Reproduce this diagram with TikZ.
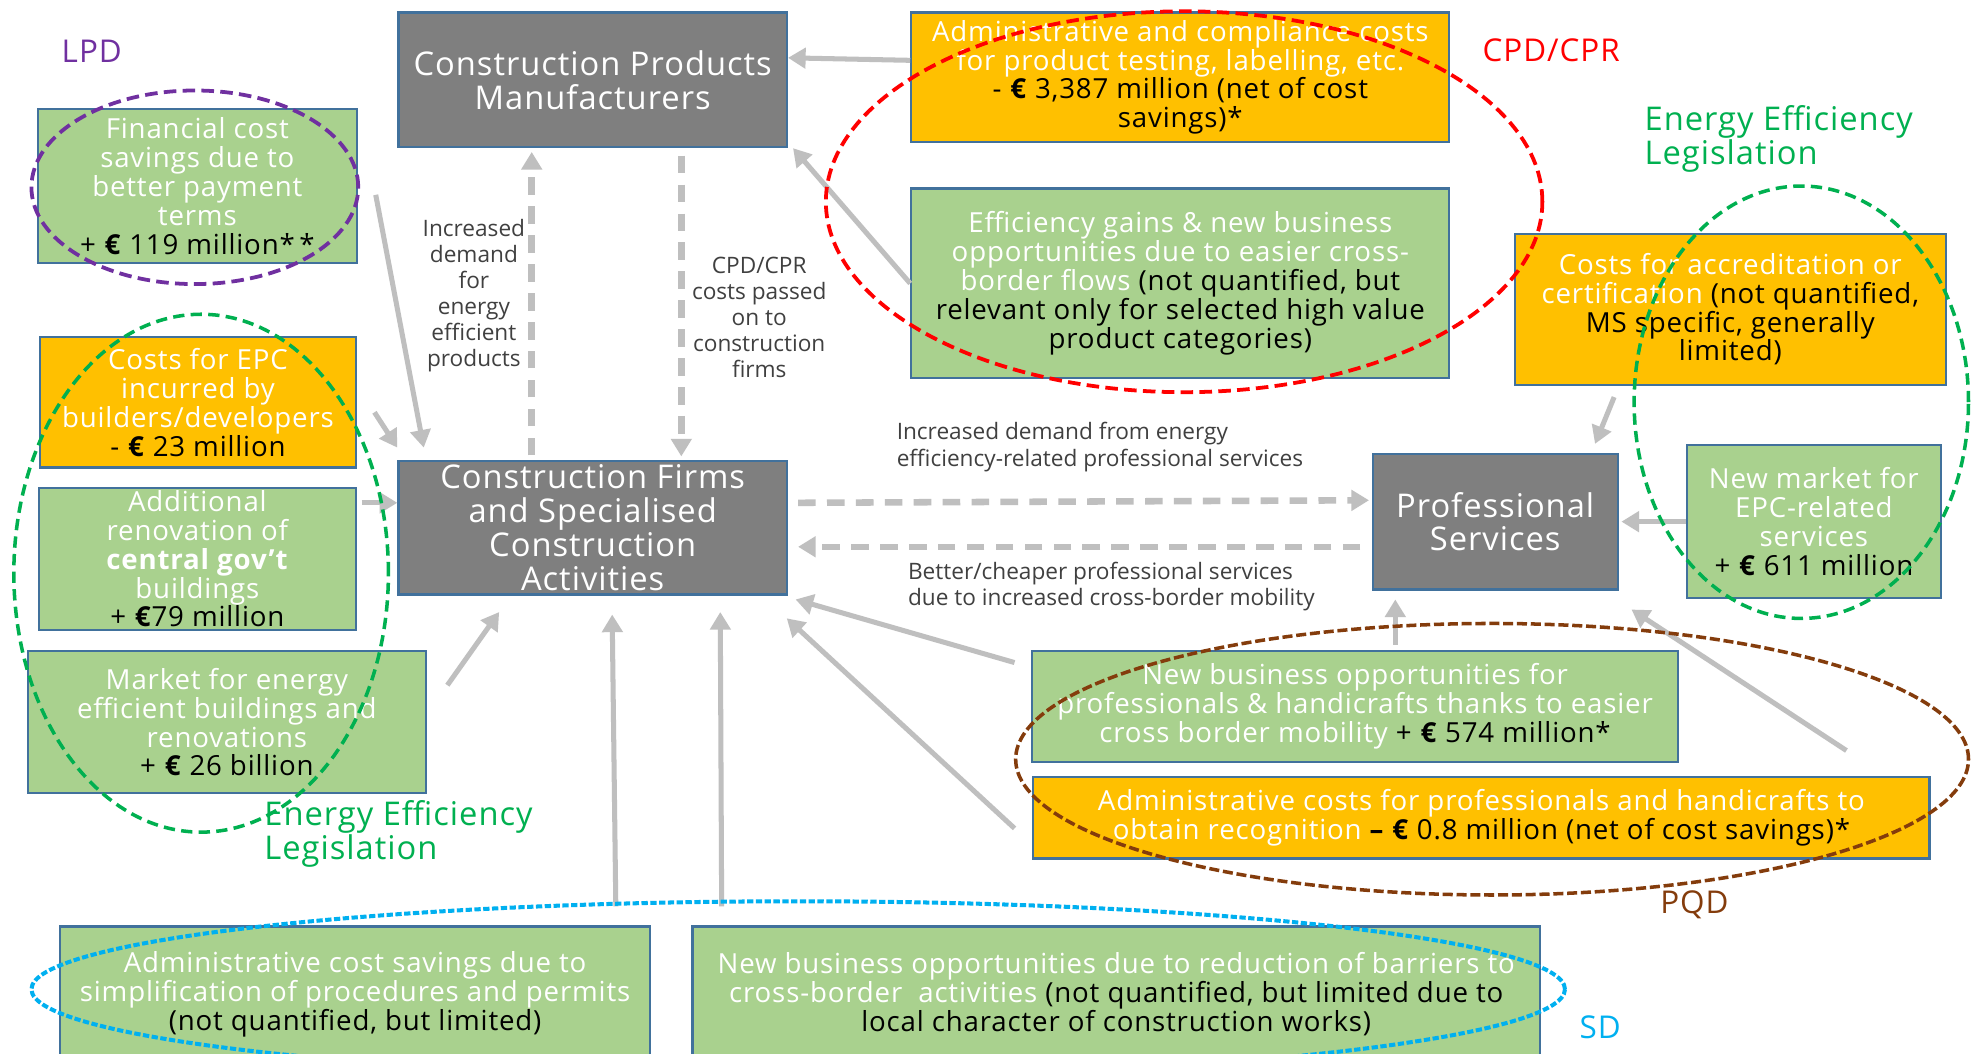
\documentclass[tikz,border=0pt]{standalone}
\usepackage{fontspec}
\setmainfont{Open Sans}
\newfontfamily\boxfont[LetterSpace=3]{Open Sans}
\usetikzlibrary{arrows.meta,calc}
\definecolor{boxblue}{HTML}{41719C}
\definecolor{lgreen}{HTML}{A9D18E}
\definecolor{gold}{HTML}{FFC000}
\definecolor{dgray}{HTML}{7F7F7F}
\definecolor{arrgray}{HTML}{BFBFBF}
\definecolor{lblgray}{HTML}{404040}
\definecolor{lpdpurple}{HTML}{7030A0}
\definecolor{eelgreen}{HTML}{00B050}
\definecolor{pqdbrown}{HTML}{843C0C}
\definecolor{sdblue}{HTML}{00B0F0}
\newcommand{\wt}[1]{\textcolor{white}{#1}}
\newcommand{\myeur}{\textbf{€}}
\tikzset{
  box/.style={draw=boxblue, line width=0.9pt, align=center, inner sep=0pt,
    font=\boxfont\fontsize{11}{11.5}\selectfont},
  greenbox/.style={box, fill=lgreen},
  orangebox/.style={box, fill=gold},
  graybox/.style={box, fill=dgray, text=white, font=\boxfont\fontsize{13}{13.5}\selectfont},
  arr/.style={draw=arrgray, line width=2pt, -{Triangle[length=7pt,width=8pt]}},
  darr/.style={arr, line width=2.6pt, dash pattern=on 7pt off 4.5pt},
  lbl/.style={text=lblgray, align=center, inner sep=0pt, font=\fontsize{9}{10.3}\selectfont},
  lawtag/.style={inner sep=0pt, align=left, font=\boxfont\fontsize{12.5}{13.5}\selectfont},
  ell/.style={line width=1.5pt, dash pattern=on 5pt off 2.5pt}
}
\begin{document}
\begin{tikzpicture}[x=0.5pt,y=-0.5pt]
\fill[white] (0,0) rectangle (1568,838);
\useasboundingbox (0,0) rectangle (1568,838);

% boxes
\node[graybox, minimum width=154.5pt, minimum height=53.5pt] (cpm) at (471.5,63.5)
  {Construction Products\\Manufacturers};
\node[orangebox, minimum width=214pt, minimum height=51.5pt] (admc) at (939,61.5)
  {\wt{Administrative and compliance costs}\\\wt{for product testing, labelling, etc.}\\- \myeur{} 3,387 million (net of cost\\savings)*};
\node[greenbox, minimum width=214pt, minimum height=75.5pt] (effg) at (939,225.5)
  {\wt{Efficiency gains \& new business}\\\wt{opportunities due to easier cross-}\\\wt{border flows} (not quantified, but\\relevant only for selected high value\\product categories)};
\node[greenbox, minimum width=127pt, minimum height=61pt] (fin) at (157,148)
  {\wt{Financial cost}\\\wt{savings due to}\\\wt{better payment}\\\wt{terms}\\+ \myeur{} 119 million*\,*};
\node[orangebox, minimum width=125.5pt, minimum height=52pt] (epc) at (157.5,320)
  {\wt{Costs for EPC}\\\wt{incurred by}\\\wt{builders/developers}\\- \myeur{} 23 million};
\node[greenbox, minimum width=126pt, minimum height=56.5pt] (addr) at (157,444.5)
  {\wt{Additional}\\\wt{renovation of}\\\wt{\textbf{central gov’t}}\\\wt{buildings}\\+ \myeur{}79 million};
\node[greenbox, minimum width=158.5pt, minimum height=56.5pt] (mkt) at (180.5,574.5)
  {\wt{Market for energy}\\\wt{efficient buildings and}\\\wt{renovations}\\+ \myeur{} 26 billion};
\node[graybox, minimum width=154.5pt, minimum height=53pt] (cf) at (471.5,420)
  {Construction Firms\\and Specialised\\Construction\\Activities};
\node[orangebox, minimum width=171.5pt, minimum height=60pt] (acc) at (1376.5,246)
  {\wt{Costs for accreditation or}\\\wt{certification} (not quantified,\\MS specific, generally\\limited)};
\node[graybox, minimum width=97.5pt, minimum height=54pt] (ps) at (1189.5,415)
  {Professional\\Services};
\node[greenbox, minimum width=101pt, minimum height=61pt] (nm) at (1443,415)
  {\wt{New market for}\\\wt{EPC-related}\\\wt{services}\\+ \myeur{} 611 million};
\node[greenbox, minimum width=257pt, minimum height=44pt] (nbp) at (1078,562)
  {\wt{New business opportunities for}\\\wt{professionals \& handicrafts thanks to easier}\\\wt{cross border mobility} + \myeur{} 574 million*};
\node[orangebox, minimum width=356.5pt, minimum height=32.5pt] (admp) at (1178.5,650.5)
  {\wt{Administrative costs for professionals and handicrafts to}\\\wt{obtain recognition} \textbf{–} \myeur{} 0.8 million (net of cost savings)*};
\node[greenbox, minimum width=234.5pt, minimum height=54pt] (sdone) at (282.5,791)
  {\wt{Administrative cost savings due to}\\\wt{simplification of procedures and permits}\\(not quantified, but limited)};
\node[greenbox, minimum width=337pt, minimum height=54pt] (sdtwo) at (888,791)
  {\wt{New business opportunities due to reduction of barriers to}\\\wt{cross-border\ \ activities} (not quantified, but limited due to\\local character of construction works)};

% connector labels
\node[lbl] (lincdem) at (377,235) {Increased\\demand\\for\\energy\\efficient\\products};
\node[lbl] (lcpdcost) at (604,252.5) {CPD/CPR\\costs passed\\on to\\construction\\firms};
\node[lbl, align=left, anchor=west, font=\fontsize{9}{10.5}\selectfont] (lincps) at (713,355.5)
  {Increased demand from energy\\efficiency-related professional services};
\node[lbl, align=left, anchor=west, font=\fontsize{9}{10.5}\selectfont] (lbetter) at (722,466.5)
  {Better/cheaper professional services\\due to increased cross-border mobility};

% connectors
\draw[arr] ([yshift=6.75pt]admc.west) -- ([yshift=8.75pt]cpm.east);
\draw[arr] (effg.west) -- ([xshift=2pt]cpm.south east);
\draw[arr] ([xshift=7pt,yshift=-3.5pt]fin.east) -- ([xshift=10.5pt,yshift=5pt]cf.north west);
\draw[arr] ([xshift=7pt,yshift=-4pt]epc.east) -- ([yshift=5pt]cf.north west);
\coordinate (addrend) at ([yshift=10pt]cf.west);
\draw[arr] ([xshift=2pt]addrend -| addr.east) -- (addrend);
\draw[arr] ([xshift=8pt,yshift=-14pt]mkt.north east) -- ([xshift=40.5pt,yshift=-6.5pt]cf.south west);
\draw[darr] ([xshift=-24.25pt,yshift=2pt]cf.north) -- ([xshift=-24.25pt,yshift=-1.5pt]cpm.south);
\draw[darr] ([xshift=35.25pt,yshift=-3pt]cpm.south) -- ([xshift=35.25pt,yshift=1.5pt]cf.north);
\draw[darr] ([xshift=4pt,yshift=10pt]cf.east) -- ([xshift=-1pt,yshift=8.5pt]ps.west);
\draw[darr] ([xshift=-4.5pt,yshift=-10pt]ps.west) -- ([xshift=4pt,yshift=-7.5pt]cf.east);
\draw[arr] ([xshift=40pt,yshift=-4.5pt]acc.south west) -- ([xshift=-9.5pt,yshift=3.5pt]ps.north east);
\draw[arr] (nm.west) -- ([xshift=1pt]ps.east);
\draw[arr] ([xshift=16pt,yshift=2pt]nbp.north) -- ([xshift=-39.75pt,yshift=-3.5pt]ps.south);
\draw[arr] ([xshift=-33.5pt,yshift=10pt]admp.north east) -- ([xshift=5pt,yshift=-7.5pt]ps.south east);
\draw[arr] ([xshift=-6.5pt,yshift=-5pt]nbp.north west) -- ([xshift=3pt,yshift=-1.5pt]cf.south east);
\draw[arr] ([xshift=-7pt,yshift=-4.25pt]admp.west) -- ([xshift=-0.5pt,yshift=-9pt]cf.south east);
\draw[arr] ([xshift=-14pt,yshift=7.5pt]sdone.north east) -- ([xshift=7.75pt,yshift=-7.5pt]cf.south);
\draw[arr] ([xshift=12pt,yshift=7.5pt]sdtwo.north west) -- ([xshift=50.75pt,yshift=-6.5pt]cf.south);

% legislation ellipses
\draw[ell, lpdpurple] (155,149) ellipse [x radius=65pt, y radius=38.5pt];
\draw[ell, eelgreen, line width=1.4pt, dash pattern=on 4.5pt off 2.5pt] (160,456) ellipse [x radius=74.5pt, y radius=103pt];
\draw[ell, red] (942,160.5) ellipse [x radius=142.5pt, y radius=75.75pt];
\draw[ell, eelgreen, line width=1.4pt, dash pattern=on 4.5pt off 2.5pt] (1433,320) ellipse [x radius=66.5pt, y radius=86pt];
\draw[ell, pqdbrown, line width=1.4pt, dash pattern=on 4pt off 1.5pt] (1187,604) ellipse [x radius=189.5pt, y radius=54pt];
\draw[ell, sdblue, line width=1.6pt, dash pattern=on 2.5pt off 1pt] (635,787) ellipse [x radius=305pt, y radius=35pt];

% legislation tags
\node[lawtag, text=lpdpurple] (tlpd) at (73,41) {LPD};
\node[lawtag, text=red] (tcpd) at (1234,40) {CPD/CPR};
\node[lawtag, text=eelgreen, anchor=west, font=\boxfont\fontsize{13}{13.5}\selectfont] (teelr) at (1308,110.5) {Energy Efficiency\\Legislation};
\node[lawtag, text=eelgreen, anchor=west, font=\boxfont\fontsize{13}{13.5}\selectfont] (teell) at (210,663.5) {Energy Efficiency\\Legislation};
\node[lawtag, text=pqdbrown] (tpqd) at (1348,720) {PQD};
\node[lawtag, text=sdblue] (tsd) at (1273,817) {SD};
\end{tikzpicture}
\end{document}
